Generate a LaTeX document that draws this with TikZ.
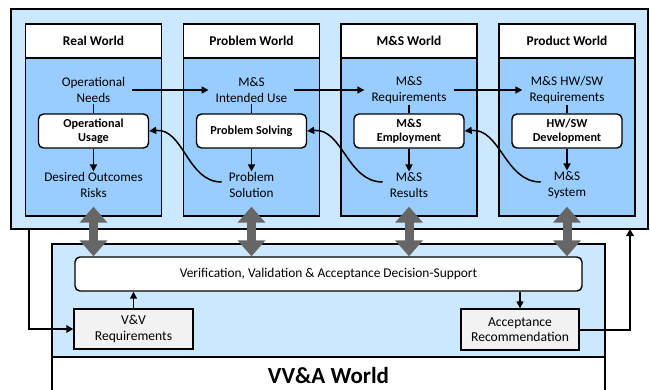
\documentclass[tikz,border=0pt]{standalone}
\usepackage{fontspec}
\setmainfont{Carlito}
\usetikzlibrary{arrows.meta}

\definecolor{paleblue}{RGB}{204,232,255}
\definecolor{midblue}{RGB}{153,204,255}
\definecolor{boxgrey}{RGB}{242,242,242}
\definecolor{bigarrow}{RGB}{102,102,102}

\begin{document}
\begin{tikzpicture}[x=1pt,y=-1pt,
  frame/.style={draw=black, line width=1.4pt},
  header/.style={frame, fill=white, minimum width=136pt, minimum height=34pt,
    font=\bfseries\fontsize{13.4}{15}\selectfont},
  body/.style={frame, fill=midblue, minimum width=136pt, minimum height=158pt},
  label/.style={align=center, inner xsep=7pt, inner ysep=1pt,
    font=\fontsize{13.2}{15.5}\selectfont},
  activity/.style={frame, fill=white, rounded corners=5pt, minimum width=110pt,
    minimum height=34pt, align=center, inner sep=1pt,
    font=\bfseries\fontsize{12.2}{14}\selectfont},
  vvbox/.style={frame, fill=boxgrey, align=center, inner sep=1pt,
    font=\fontsize{13.6}{15.5}\selectfont},
  flow/.style={line width=1.5pt, -{Triangle[length=7pt,width=7pt]}},
  link/.style={line width=1.5pt},
  feed/.style={line width=2pt, -{Triangle[length=7pt,width=7.5pt]}},
  twoway/.style={bigarrow, line width=9pt,
    {Triangle[length=16pt,width=27pt]}-{Triangle[length=16pt,width=27pt]}},
]
\useasboundingbox (0,0) rectangle (650,389);
\clip (0,0) rectangle (650,389);

% enclosing area of the four worlds
\node[frame, line width=1.6pt, fill=paleblue, minimum width=637pt, minimum height=220pt]
  (outer) at (329.5,119) {};

% world columns
\foreach \i/\cx in {1/93.5, 2/251.5, 3/409, 4/567} {
  \node[body] (body\i) at (\cx,137) {};
}
\node[header] (h1) at (93.5,41) {Real World};
\node[header] (h2) at (251.5,41) {Problem World};
\node[header] (h3) at (409,41) {M\&S World};
\node[header] (h4) at (567,41) {Product World};

% upper labels
\node[label] (t1) at (93.5,90) {Operational\\Needs};
\node[label] (t2) at (251.5,90) {M\&S\\Intended Use};
\node[label] (t3) at (409,90) {M\&S\\Requirements};
\node[label] (t4) at (567,90) {M\&S HW/SW\\Requirements};

% activities
\node[activity] (a1) at (93.5,131) {Operational\\Usage};
\node[activity] (a2) at (251.5,131) {Problem Solving};
\node[activity] (a3) at (409,131) {M\&S\\Employment};
\node[activity] (a4) at (567,131) {HW/SW\\Development};

% lower labels
\node[label] (b1) at (93.5,185) {Desired Outcomes\\Risks};
\node[label] (b2) at (251.5,185) {Problem\\Solution};
\node[label] (b3) at (409,185) {M\&S\\Results};
\node[label] (b4) at (567,185) {M\&S\\System};

\foreach \i in {1,2,3,4} {
  \draw[link] (t\i.south) -- (a\i.north);
  \draw[flow] (a\i.south) -- (b\i.north);
}
\draw[flow] (t1.east) -- (t2.west);
\draw[flow] (t2.east) -- (t3.west);
\draw[flow] (t3.east) -- (t4.west);

\draw[flow] ([yshift=3pt]b2.west) to[out=180,in=5] (a1.east);
\draw[flow] ([yshift=3pt]b3.west) to[out=180,in=5] (a2.east);
\draw[flow] ([yshift=3pt]b4.west) to[out=180,in=5] (a3.east);

% VV&A world
\draw[frame] (52,244) rectangle (605,400);
\node[frame, fill=paleblue, minimum width=553pt, minimum height=113pt]
  (vva) at (328.5,300.5) {};
\node[font=\bfseries\fontsize{23}{26}\selectfont] (vvatitle) at (328.5,376) {VV\&A World};

\node[frame, fill=white, rounded corners=5pt, minimum width=507pt, minimum height=34pt,
  font=\fontsize{13.4}{15}\selectfont] (vbar) at (328.5,274)
  {Verification, Validation \& Acceptance Decision-Support};
\node[vvbox, minimum width=119pt, minimum height=40pt] (vvreq) at (133.5,329)
  {V\&V\\Requirements};
\node[vvbox, minimum width=118pt, minimum height=41pt] (accrec) at (520,329.5)
  {Acceptance\\Recommendation};

\draw[flow] (vvreq.north) -- (vvreq.north |- vbar.south);
\draw[flow] (vbar.south -| accrec.north) -- (accrec.north);

\coordinate (lt) at (29,229);
\coordinate (rt) at (630,229);
\draw[feed] (lt) |- (vvreq.west);
\draw[feed] (accrec.east) -| (rt);

% two-way exchanges between each world and the VV&A support
\foreach \i in {1,2,3,4} {
  \draw[twoway] ([yshift=10pt]body\i.south) -- (vbar.north -| body\i.south);
}
\end{tikzpicture}
\end{document}
